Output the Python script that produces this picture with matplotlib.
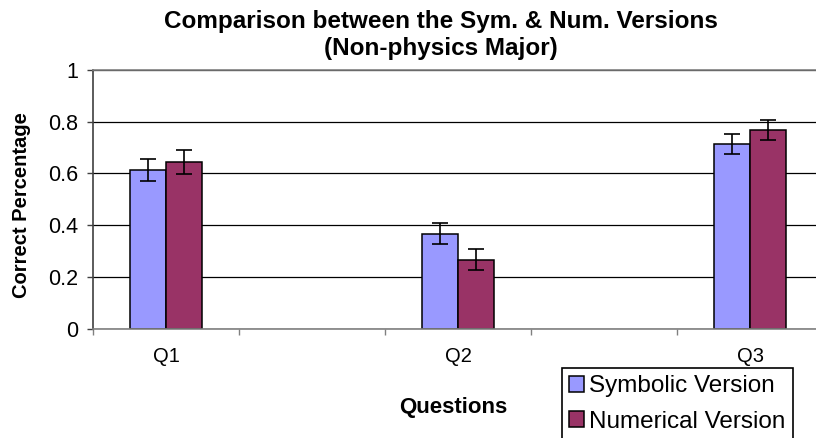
import matplotlib
matplotlib.use("Agg")
import matplotlib.pyplot as plt
import numpy as np

plt.rcParams['font.family'] = ['Liberation Sans', 'DejaVu Sans']

categories = ["Q1", "Q2", "Q3"]
symbolic = [0.614, 0.368, 0.714]
symbolic_err = [0.043, 0.042, 0.039]
numerical = [0.645, 0.268, 0.767]
numerical_err = [0.047, 0.041, 0.039]
series_names = ["Symbolic Version", "Numerical Version"]
colors = ["#9999FF", "#993366"]
yticks = [0, 0.2, 0.4, 0.6, 0.8, 1]

W, H = 816, 438
fig = plt.figure(figsize=(W / 100, H / 100), dpi=100)
ax = fig.add_axes([93 / W, 1 - 329 / H, 730 / W, (329 - 69.7) / H])

# categories are spaced with an empty slot between each
x = np.arange(len(categories)) * 2
bw = 0.247
ax.set_axisbelow(True)
b1 = ax.bar(x - bw / 2, symbolic, bw, color=colors[0], edgecolor='black', linewidth=1.1,
            label=series_names[0], zorder=2)
b2 = ax.bar(x + bw / 2, numerical, bw, color=colors[1], edgecolor='black', linewidth=1.1,
            label=series_names[1], zorder=2)
ax.errorbar(x - bw / 2, symbolic, yerr=symbolic_err, fmt='none', ecolor='black',
            elinewidth=1.2, capsize=5.6, capthick=1.2, zorder=3)
ax.errorbar(x + bw / 2, numerical, yerr=numerical_err, fmt='none', ecolor='black',
            elinewidth=1.2, capsize=5.6, capthick=1.2, zorder=3)

ax.set_ylim(0, 1)
ax.set_xlim(-0.5, 2 * len(categories) - 1.5)
ax.set_yticks(yticks)
ax.set_yticklabels([f"{t:g}" for t in yticks], fontsize=15.5)
ax.yaxis.grid(True, color='black', linewidth=0.9)
ax.set_xticks(x)
ax.set_xticklabels(categories, fontsize=14.5)
ax.set_xticks(np.arange(-0.5, 2 * len(categories) - 1, 1), minor=True)
ax.tick_params(axis='x', which='major', length=0, pad=13)
ax.tick_params(axis='x', which='minor', length=4.5, width=1, color='#808080')
ax.tick_params(axis='y', length=4.5, width=1, color='#404040', pad=6)

for s in ['left', 'bottom', 'top', 'right']:
    ax.spines[s].set_color('#808080')
    ax.spines[s].set_linewidth(1.2)
ax.spines['left'].set_color('#404040')

fig.text(441 / W, 1 - 10 / H, "Comparison between the Sym. & Num. Versions\n(Non-physics Major)",
         ha='center', va='top', fontsize=17.5, fontweight='bold', linespacing=1.2)
fig.text(22 / W, 1 - 205 / H, "Correct Percentage", rotation=90, ha='center', va='center',
         fontsize=14.5, fontweight='bold')
fig.text(453 / W, 1 - 408 / H, "Questions", ha='center', va='center',
         fontsize=16, fontweight='bold')

leg = fig.legend(handles=[b1, b2], labels=series_names, loc='upper left',
                 bbox_to_anchor=(562 / W, 1 - 368 / H), fontsize=17.5,
                 frameon=True, fancybox=False, edgecolor='black', framealpha=1,
                 handlelength=0.62, handleheight=0.62, handletextpad=0.2,
                 labelspacing=0.55, borderpad=0.3, borderaxespad=0)
leg.get_frame().set_linewidth(1.2)

fig.savefig("out.png", dpi=100)
